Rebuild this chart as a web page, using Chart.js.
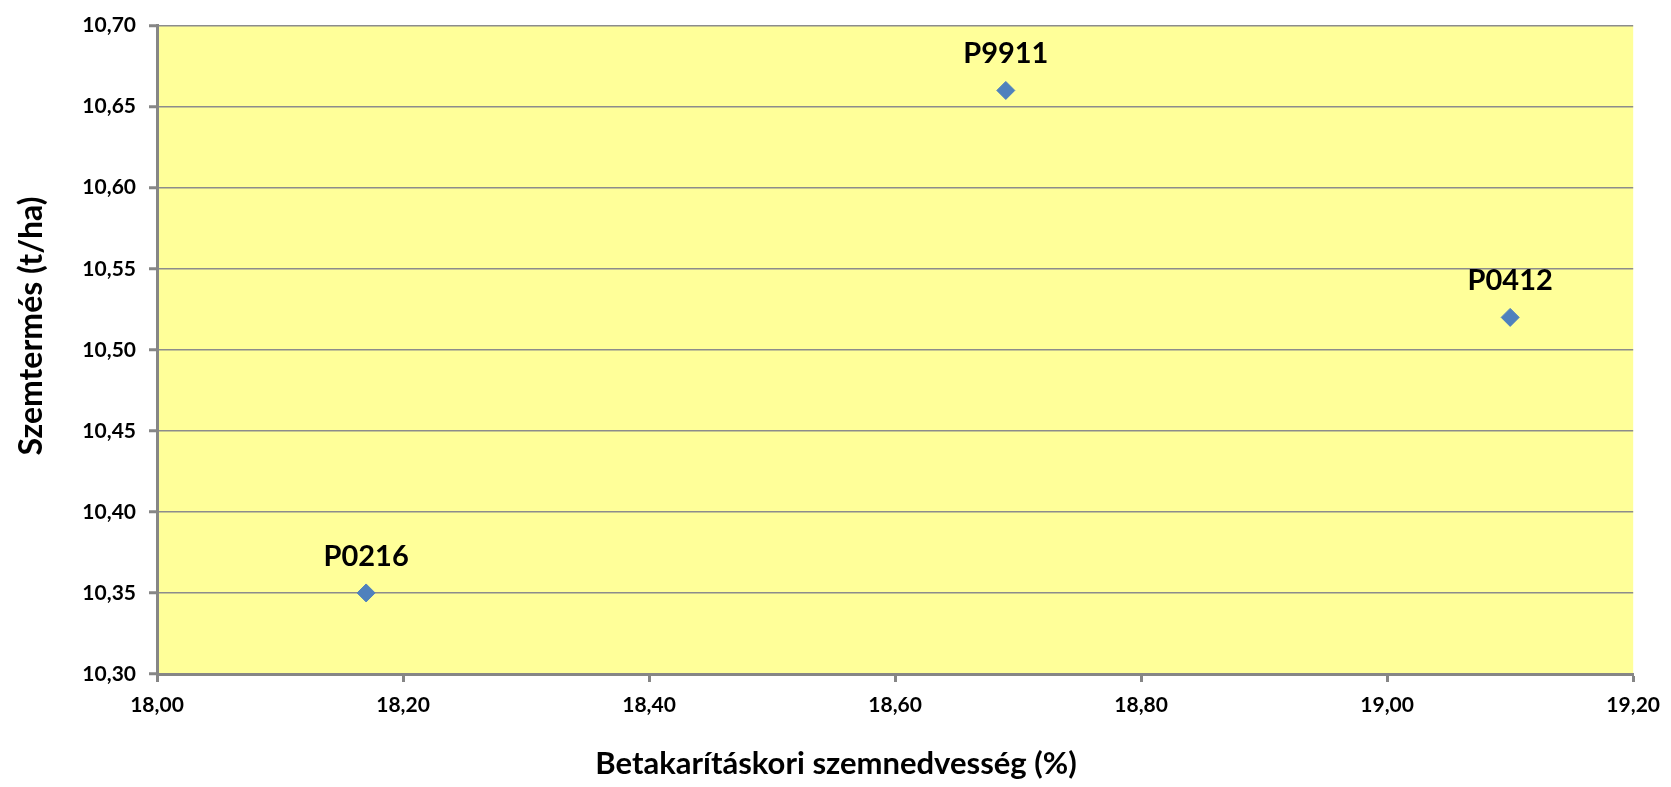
<!DOCTYPE html>
<html>
<head>
<meta charset="utf-8">
<script src="https://cdn.jsdelivr.net/npm/chart.js@4/dist/chart.umd.min.js"></script>
<style>
  html, body { margin: 0; padding: 0; background: #fff; }
  #wrap { width: 1671px; height: 787px; position: relative; }
</style>
</head>
<body>
<div id="wrap"><canvas id="chart"></canvas></div>
<script>
  // values
  var hybrids = ["P0216", "P9911", "P0412"];
  var moisture = [18.17, 18.69, 19.10];
  var yieldTha = [10.35, 10.66, 10.52];

  var xTitle = "Betakarításkori szemnedvesség (%)";
  var yTitle = "Szemtermés (t/ha)";

  var FONT = "Lato, 'Liberation Sans', Arial, sans-serif";

  function comma(v) {
    return Number(v).toFixed(2).replace(".", ",");
  }

  var plotBg = {
    id: "plotBg",
    beforeDraw: function (chart) {
      var a = chart.chartArea;
      var ctx = chart.ctx;
      ctx.save();
      ctx.fillStyle = "#ffff99";
      ctx.fillRect(a.left, a.top, a.right - a.left, a.bottom - a.top);
      ctx.restore();
    },
  };

  // point names above the markers, and the axis titles
  // (both titles sit a bit off centre in the original, so they are placed by hand)
  var textBits = {
    id: "textBits",
    afterDatasetsDraw: function (chart) {
      var ctx = chart.ctx;
      var meta = chart.getDatasetMeta(0);
      ctx.save();
      ctx.font = "bold 29px " + FONT;
      ctx.fillStyle = "#000";
      ctx.textAlign = "center";
      ctx.textBaseline = "alphabetic";
      meta.data.forEach(function (pt, i) {
        ctx.fillText(hybrids[i], pt.x, pt.y - 27);
      });
      ctx.restore();
    },
    afterDraw: function (chart) {
      var ctx = chart.ctx;
      ctx.save();
      ctx.font = "bold 31px " + FONT;
      ctx.fillStyle = "#000";
      ctx.textAlign = "center";
      ctx.textBaseline = "middle";
      ctx.fillText(xTitle, 836, 764);
      ctx.translate(32, 326);
      ctx.rotate(-Math.PI / 2);
      ctx.font = "bold 32px " + FONT;
      ctx.fillText(yTitle, 0, 0);
      ctx.restore();
    },
  };

  var points = moisture.map(function (m, i) {
    return { x: m, y: yieldTha[i] };
  });

  new Chart(document.getElementById("chart"), {
    type: "scatter",
    data: {
      datasets: [
        {
          label: "Hibridek",
          data: points,
          pointStyle: "rectRot",
          pointRadius: 9,
          pointHoverRadius: 9,
          backgroundColor: "#4f81bd",
          borderColor: "#4f81bd",
          borderWidth: 1,
        },
      ],
    },
    options: {
      responsive: true,
      maintainAspectRatio: false,
      animation: false,
      layout: { padding: { top: 23, right: 32, bottom: 0, left: 0 } },
      plugins: { legend: { display: false }, tooltip: { enabled: false } },
      scales: {
        x: {
          type: "linear",
          min: 18,
          max: 19.2,
          afterFit: function (s) { s.height = 113; },
          ticks: {
            stepSize: 0.2,
            padding: 11,
            color: "#000",
            font: { family: FONT, size: 21, weight: "bold" },
            callback: function (v) { return comma(v); },
          },
          grid: { drawOnChartArea: false, drawTicks: true, tickLength: 8, tickColor: "#868686", tickWidth: 3 },
          border: { display: true, color: "#868686", width: 3 },
        },
        y: {
          type: "linear",
          min: 10.3,
          max: 10.7,
          afterFit: function (s) { s.width = 157; },
          ticks: {
            stepSize: 0.05,
            padding: 13,
            color: "#000",
            font: { family: FONT, size: 21, weight: "bold" },
            callback: function (v) { return comma(v); },
          },
          grid: { color: "#8c8c8c", lineWidth: 1.5, drawTicks: true, tickLength: 8, tickColor: "#868686", tickWidth: 3 },
          border: { display: true, color: "#868686", width: 3 },
        },
      },
    },
    plugins: [plotBg, textBits],
  });
</script>
</body>
</html>
